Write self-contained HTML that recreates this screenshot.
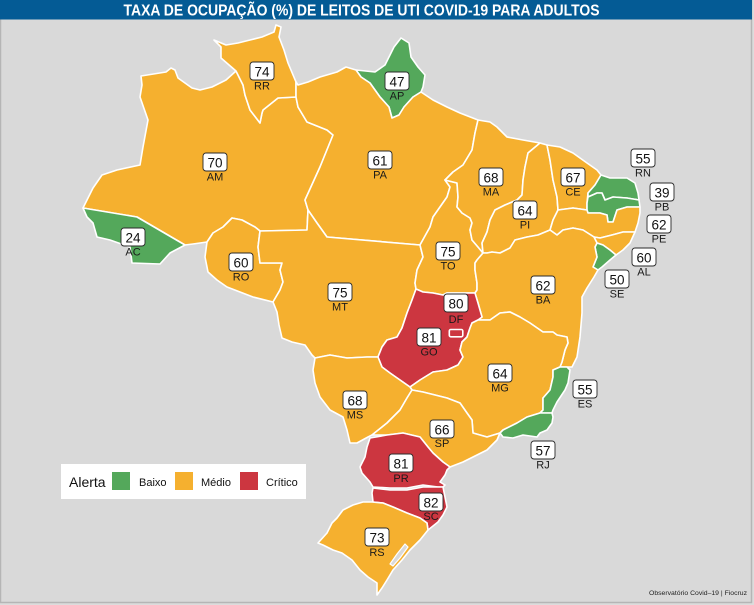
<!DOCTYPE html>
<html>
<head>
<meta charset="utf-8">
<style>
html,body{margin:0;padding:0;background:#d9d9d9;}
svg{display:block;}
text{font-family:"Liberation Sans",Arial,sans-serif;}
</style>
</head>
<body>
<svg width="754" height="605" viewBox="0 0 754 605" xmlns="http://www.w3.org/2000/svg">
<rect x="0" y="0" width="754" height="605" fill="#dcdcdc"/>
<rect x="0.5" y="0" width="751" height="602.5" fill="#d9d9d9" stroke="#b5b5b5" stroke-width="1.5"/>
<rect x="0" y="0" width="752" height="19.5" fill="#045b95"/>
<text x="123.5" y="15.6" font-size="15.6" font-weight="bold" fill="#ffffff" textLength="476" lengthAdjust="spacingAndGlyphs">TAXA DE OCUPAÇÃO (%) DE LEITOS DE UTI COVID-19 PARA ADULTOS</text>

<g stroke="#ffffff" stroke-width="1.6" stroke-linejoin="round">
<!-- AM -->
<polygon fill="#f5b02f" points="141,76 166,72 171,68 175,70 178,78 192,88 200,90 212,87 226,80 236,71 243,85 245,95 250,110 260,123 262,113 263,110 278,98 296,97 298,107 307,122 327,130 333,135 320,167 305,200 308,210 307,230 260,231 255,227 242,220 232,218 223,227 213,233 207,242 193,244 185,245 137,217 83,208 87,200 93,188 102,175 117,170 140,165 143,147 148,120 140,97 142,85"/>
<!-- RR -->
<polygon fill="#f5b02f" points="236,71 221,58 221,47 214,40 226,45 238,43 250,40 262,37 274,32 276,25 281,27 279,37 284,50 288,63 296,82 296,97 278,98 263,110 262,113 260,123 250,110 245,95 243,85"/>
<!-- AP -->
<polygon fill="#54a85b" points="356,70 375,72 385,65 394,47 401,38 409,43 411,57 418,67 425,75 423,87 421,92 413,97 404,107 399,115 392,118 389,107 380,97 370,83 361,77"/>
<!-- PA -->
<polygon fill="#f5b02f" points="296,82 298,85 308,82 320,77 337,72 346,67 356,70 361,77 370,83 380,97 389,107 392,118 399,115 404,107 413,97 421,92 433,100 447,107 460,113 478,120 475,133 472,150 463,165 453,172 445,180 450,187 447,197 440,207 433,217 430,227 420,245 327,237 317,223 308,210 305,200 320,167 333,135 327,130 307,122 298,107 296,97"/>
<!-- AC -->
<polygon fill="#54a85b" points="83,208 137,217 185,245 170,253 160,264 132,263 130,247 110,240 97,237 93,223 87,217"/>
<!-- RO -->
<polygon fill="#f5b02f" points="207,242 213,233 223,227 232,218 242,220 255,227 260,231 258,247 260,263 282,263 280,270 283,282 280,290 273,302 253,297 240,292 227,287 217,280 208,272 205,257"/>
<!-- MT -->
<polygon fill="#f5b02f" points="260,231 307,230 308,210 317,223 327,237 420,245 423,257 417,270 415,283 416,289 412,300 407,313 402,328 397,337 387,340 382,347 378,357 367,357 347,358 330,355 315,358 312,355 305,345 292,342 282,338 279,325 277,312 273,302 280,290 283,282 280,270 282,263 260,263 258,247"/>
<!-- TO -->
<polygon fill="#f5b02f" points="445,180 457,183 458,197 457,207 462,213 470,218 472,223 470,230 472,240 478,247 483,253 477,260 475,263 475,270 477,283 477,290 475,293 447,293 443,295 433,293 423,292 416,289 415,283 417,270 423,257 420,245 430,227 433,217 440,207 447,197 450,187"/>
<!-- MA -->
<polygon fill="#f5b02f" points="478,120 490,122 497,127 507,137 523,140 540,143 528,153 525,167 523,180 522,195 517,200 505,205 495,210 490,220 487,232 482,243 483,253 478,247 472,240 470,230 472,223 470,218 462,213 457,207 458,197 457,183 445,180 453,172 463,165 472,150 475,133"/>
<!-- PI -->
<polygon fill="#f5b02f" points="540,143 547,145 550,160 553,180 557,197 558,210 553,220 550,230 538,235 527,237 515,240 510,248 500,253 492,252 487,253 483,253 482,243 487,232 490,220 495,210 505,205 517,200 522,195 523,180 525,167 528,153"/>
<!-- CE -->
<polygon fill="#f5b02f" points="547,145 560,147 573,153 587,163 597,170 601,175 595,185 588,193 587,203 587,210 573,208 558,210 557,197 553,180 550,160"/>
<!-- RN -->
<polygon fill="#54a85b" points="601,175 610,178 627,178 635,183 638,193 639,200 627,198 613,197 605,200 602,193 597,193 588,197 588,193 595,185"/>
<!-- PB -->
<polygon fill="#54a85b" points="588,197 597,193 602,193 605,200 613,197 627,198 639,200 640,207 627,207 617,210 613,222 608,222 607,215 600,213 588,213 587,210 587,203"/>
<!-- PE -->
<polygon fill="#f5b02f" points="558,210 573,208 587,210 588,213 600,213 607,215 608,222 613,222 617,210 627,207 640,207 640,213 638,223 635,232 623,232 612,235 600,238 594,237 583,230 573,228 563,230 557,235 550,230 553,220"/>
<!-- AL -->
<polygon fill="#f5b02f" points="594,237 600,238 612,235 623,232 635,232 630,243 623,250 616,255 610,250 603,245 597,243"/>
<!-- SE -->
<polygon fill="#54a85b" points="597,243 603,245 610,250 616,255 610,260 602,267 598,270 593,267 597,257 595,247"/>
<!-- BA -->
<polygon fill="#f5b02f" points="483,253 487,253 492,252 500,253 510,248 515,240 527,237 538,235 550,230 557,235 563,230 573,228 583,230 594,237 597,243 595,247 597,257 593,267 598,270 594,277 587,288 582,297 582,313 580,337 577,357 572,367 567,367 560,367 562,362 565,350 568,343 567,337 557,335 553,332 543,332 530,323 520,317 510,312 500,313 490,320 478,320 482,317 478,303 475,293 477,290 477,283 475,270 475,263 477,260"/>
<!-- GO -->
<polygon fill="#cc3640" points="416,289 423,292 433,293 443,295 447,293 475,293 478,303 482,317 478,320 472,323 470,328 467,337 462,342 460,350 463,357 458,365 447,370 433,372 420,380 410,387 400,380 390,373 382,367 378,357 382,347 387,340 397,337 402,328 407,313 412,300"/>
<!-- DF -->
<rect x="449.3" y="329.5" width="13.5" height="7.3" rx="1.5" fill="#cc3640"/>
<!-- MG -->
<polygon fill="#f5b02f" points="478,320 490,320 500,313 510,312 520,317 530,323 543,332 553,332 557,335 567,337 568,343 565,350 562,362 560,367 553,370 553,377 550,390 543,398 543,410 540,413 527,417 517,423 503,430 500,433 487,437 473,433 472,420 467,413 460,403 447,398 423,392 412,390 410,387 420,380 433,372 447,370 458,365 463,357 460,350 462,342 467,337 470,328 472,323"/>
<!-- ES -->
<polygon fill="#54a85b" points="560,367 567,367 570,370 568,383 565,390 557,402 553,410 552,413 540,413 543,410 543,398 550,390 553,377 553,370"/>
<!-- RJ -->
<polygon fill="#54a85b" points="500,433 503,430 517,423 527,417 540,413 552,413 553,417 552,423 547,430 540,433 537,437 523,435 513,438 503,437"/>
<!-- MS -->
<polygon fill="#f5b02f" points="315,358 330,355 347,358 367,357 378,357 382,367 390,373 400,380 410,387 412,390 407,398 400,410 387,423 372,435 368,437 357,443 350,443 347,430 343,417 330,410 320,397 315,383 313,370"/>
<!-- SP -->
<polygon fill="#f5b02f" points="372,435 387,423 400,410 407,398 412,390 423,392 447,398 460,403 467,413 472,420 473,433 487,437 500,433 497,440 487,450 477,455 463,462 450,467 443,462 433,453 428,447 420,437 403,433 387,435"/>
<!-- PR -->
<polygon fill="#cc3640" points="370,438 387,435 403,433 420,437 428,447 433,453 443,462 450,467 447,470 445,475 440,482 445,485 443,487 438,487 423,485 407,488 390,488 373,487 370,482 362,473 360,467 365,457 367,447"/>
<!-- SC -->
<polygon fill="#cc3640" points="373,488 390,490 407,490 423,487 438,487 443,487 445,497 447,507 443,515 438,522 428,530 427,523 420,518 407,513 393,507 383,503 373,502 372,493"/>
<!-- RS -->
<polygon fill="#f5b02f" points="372,502 383,503 393,507 407,513 420,518 427,523 428,530 420,540 410,550 402,560 393,570 387,580 382,588 377,595 377,583 368,577 360,570 352,560 342,553 333,550 323,545 318,543 327,533 332,523 337,518 343,510 353,505 363,502"/>
<polygon fill="#d9d9d9" stroke-width="1.2" points="405,544 408,547 400,558 393,566 390,564 397,554"/>
</g>

<!-- labels -->
<g font-size="13.5" text-anchor="middle" fill="#111">
<g stroke="#2a2a2a" stroke-width="0.9" fill="#ffffff">
<rect x="250" y="62" width="24" height="18" rx="3"/>
<rect x="385" y="72" width="24" height="18" rx="3"/>
<rect x="203" y="153" width="24" height="18" rx="3"/>
<rect x="368" y="151" width="24" height="18" rx="3"/>
<rect x="121" y="228" width="24" height="18" rx="3"/>
<rect x="229" y="253" width="24" height="18" rx="3"/>
<rect x="328" y="283" width="24" height="18" rx="3"/>
<rect x="436" y="242" width="24" height="18" rx="3"/>
<rect x="479" y="168" width="24" height="18" rx="3"/>
<rect x="513" y="201" width="24" height="18" rx="3"/>
<rect x="561" y="168" width="24" height="18" rx="3"/>
<rect x="631" y="149" width="24" height="18" rx="3"/>
<rect x="650" y="183" width="24" height="18" rx="3"/>
<rect x="647" y="215" width="24" height="18" rx="3"/>
<rect x="632" y="248" width="24" height="18" rx="3"/>
<rect x="605" y="270" width="24" height="18" rx="3"/>
<rect x="531" y="276" width="24" height="18" rx="3"/>
<rect x="444" y="294" width="24" height="18" rx="3"/>
<rect x="417" y="328" width="24" height="18" rx="3"/>
<rect x="488" y="364" width="24" height="18" rx="3"/>
<rect x="343" y="391" width="24" height="18" rx="3"/>
<rect x="430" y="420" width="24" height="18" rx="3"/>
<rect x="573" y="380" width="24" height="18" rx="3"/>
<rect x="531" y="441" width="24" height="18" rx="3"/>
<rect x="389" y="454" width="24" height="18" rx="3"/>
<rect x="419" y="493" width="24" height="18" rx="3"/>
<rect x="365" y="528" width="24" height="18" rx="3"/>
</g>
<text x="262" y="76.5">74</text>
<text x="397" y="86.5">47</text>
<text x="215" y="167.5">70</text>
<text x="380" y="165.5">61</text>
<text x="133" y="242.5">24</text>
<text x="241" y="267.5">60</text>
<text x="340" y="297.5">75</text>
<text x="448" y="256.5">75</text>
<text x="491" y="182.5">68</text>
<text x="525" y="215.5">64</text>
<text x="573" y="182.5">67</text>
<text x="643" y="163.5">55</text>
<text x="662" y="197.5">39</text>
<text x="659" y="229.5">62</text>
<text x="644" y="262.5">60</text>
<text x="617" y="284.5">50</text>
<text x="543" y="290.5">62</text>
<text x="456" y="308.5">80</text>
<text x="429" y="342.5">81</text>
<text x="500" y="378.5">64</text>
<text x="355" y="405.5">68</text>
<text x="442" y="434.5">66</text>
<text x="585" y="394.5">55</text>
<text x="543" y="455.5">57</text>
<text x="401" y="468.5">81</text>
<text x="431" y="507.5">82</text>
<text x="377" y="542.5">73</text>
</g>
<g font-size="11" text-anchor="middle" fill="#1a1a1a">
<text x="262" y="89.5">RR</text>
<text x="397" y="99.5">AP</text>
<text x="215" y="180.5">AM</text>
<text x="380" y="178.5">PA</text>
<text x="133" y="255.5">AC</text>
<text x="241" y="280.5">RO</text>
<text x="340" y="310.5">MT</text>
<text x="448" y="269.5">TO</text>
<text x="491" y="195.5">MA</text>
<text x="525" y="228.5">PI</text>
<text x="573" y="195.5">CE</text>
<text x="643" y="176.5">RN</text>
<text x="662" y="210.5">PB</text>
<text x="659" y="242.5">PE</text>
<text x="644" y="275.5">AL</text>
<text x="617" y="297.5">SE</text>
<text x="543" y="303.5">BA</text>
<text x="456" y="323">DF</text>
<text x="429" y="355.5">GO</text>
<text x="500" y="391.5">MG</text>
<text x="355" y="418.5">MS</text>
<text x="442" y="447">SP</text>
<text x="585" y="407.5">ES</text>
<text x="543" y="468.5">RJ</text>
<text x="401" y="482">PR</text>
<text x="431" y="520">SC</text>
<text x="377" y="556">RS</text>
</g>

<!-- legend -->
<rect x="61" y="464" width="245" height="35" fill="#ffffff"/>
<text x="69" y="487" font-size="14" fill="#111">Alerta</text>
<rect x="112" y="472" width="18" height="18" fill="#54a85b"/>
<text x="139" y="486" font-size="11" fill="#111">Baixo</text>
<rect x="175" y="472" width="18" height="18" fill="#f5b02f"/>
<text x="201" y="486" font-size="11" fill="#111">Médio</text>
<rect x="240" y="472" width="18" height="18" fill="#cc3640"/>
<text x="266" y="486" font-size="11" fill="#111">Crítico</text>

<text x="747" y="595" font-size="6.8" text-anchor="end" fill="#222" textLength="98" lengthAdjust="spacingAndGlyphs">Observatório Covid–19 | Fiocruz</text>
</svg>
</body>
</html>
